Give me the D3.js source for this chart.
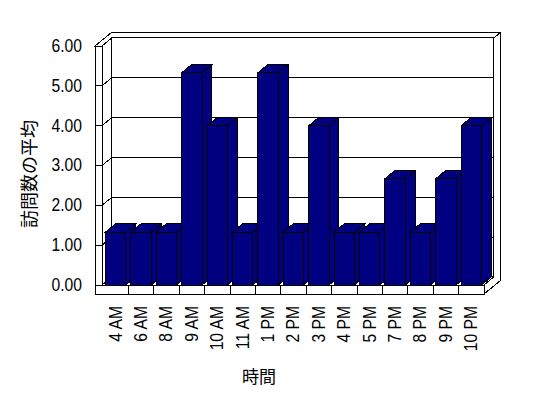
<!DOCTYPE html>
<html>
<head>
<meta charset="utf-8">
<script src="https://cdn.jsdelivr.net/npm/d3@7"></script>
<style>
  body { margin: 0; background: #fff; }
  svg { display: block; }
  text { font-family: "Liberation Sans", Arial, sans-serif; fill: #000; }
  .cjk { font-family: "Noto Sans CJK JP", sans-serif; }
</style>
</head>
<body>
<svg id="chart" width="548" height="398"></svg>
<script>
// data
const hours = ["4 AM", "6 AM", "8 AM", "9 AM", "10 AM", "11 AM", "1 PM", "2 PM",
               "3 PM", "4 PM", "5 PM", "7 PM", "8 PM", "9 PM", "10 PM"];
const averages = [1.33, 1.33, 1.33, 5.33, 4.00, 1.33, 5.33, 1.33,
                  4.00, 1.33, 1.33, 2.67, 1.33, 2.67, 4.00];
const yTicks = [0, 1, 2, 3, 4, 5, 6];
const yTitle = "訪問数の平均";
const xTitle = "時間";

const svg = d3.select("#chart");

// front plane scales
const y = d3.scaleLinear().domain([0, 6]).range([285, 46]);
const x = d3.scaleBand().domain(hours).range([103, 484]).paddingInner(0.2).paddingOuter(0.1);

// fake 3d: depth vector, walls
const depth = [16.5, -13.5];
const inner = 0.6;       // back wall front face / bar depth
const wallOuter = 95;
const wallInner = 102;
const floorH = 9;
const right = x.range()[1];
const y0 = y(0), yTop = y(6);
const narrow = 0.87;     // squeeze labels, the original font is narrow

const P = (px, py, d) => [px + d * depth[0], py + d * depth[1]];
const poly = pts => "M" + pts.map(p => p.join(",")).join("L") + "Z";
const line = pts => "M" + pts.map(p => p.join(",")).join("L");

const g = svg.append("g").attr("shape-rendering", "crispEdges");

const face = (pts, fill) => g.append("path")
    .attr("d", poly(pts))
    .attr("fill", fill)
    .attr("stroke", "#000")
    .attr("stroke-width", 1);

// tops of left + back wall
face([P(wallOuter, yTop, 0), P(wallOuter, yTop, 1), P(right, yTop, 1),
      P(right, yTop, inner), P(wallInner, yTop, inner), P(wallInner, yTop, 0)], "#fff");
// back wall
face([P(wallInner, yTop, inner), P(right, yTop, inner), P(right, y0, inner), P(wallInner, y0, inner)], "#fff");
// left wall inner side
face([P(wallInner, yTop, 0), P(wallInner, yTop, inner), P(wallInner, y0, inner), P(wallInner, y0, 0)], "#fff");
// floor top
face([P(wallInner, y0, 0), P(right, y0, 0), P(right, y0, inner), P(wallInner, y0, inner)], "#fff");
// right side of floor and back wall
face([P(right, y0, 0), P(right, y0 + floorH, 0), P(right, y0 + floorH, 1),
      P(right, yTop, 1), P(right, yTop, inner), P(right, y0, inner)], "#fff");
// front of left wall + floor
face([P(wallOuter, yTop, 0), P(wallInner, yTop, 0), P(wallInner, y0, 0), P(right, y0, 0),
      P(right, y0 + floorH, 0), P(wallOuter, y0 + floorH, 0)], "#fff");

// gridlines
g.selectAll(".grid")
  .data(yTicks)
  .enter().append("path")
    .attr("class", "grid")
    .attr("fill", "none")
    .attr("stroke", "#000")
    .attr("d", v => line([P(wallOuter, y(v), 0), P(wallInner, y(v), 0),
                          P(wallInner, y(v), inner), P(right, y(v), inner)]));

// category ticks on the floor front
const step = x.step();
const bounds = d3.range(1, hours.length).map(i => x.range()[0] + i * step);
g.selectAll(".xtick")
  .data(bounds)
  .enter().append("line")
    .attr("x1", d => d).attr("x2", d => d)
    .attr("y1", y0).attr("y2", y0 + floorH)
    .attr("stroke", "#000");

// bars
const bw = x.bandwidth();
const bars = g.selectAll(".bar")
  .data(hours.map((h, i) => ({ h: h, v: averages[i] })))
  .enter().append("g").attr("class", "bar");

bars.append("path")
    .attr("fill", "#000080").attr("stroke", "#000")
    .attr("d", d => poly([P(x(d.h) + bw, y(d.v), 0), P(x(d.h) + bw, y(d.v), inner),
                          P(x(d.h) + bw, y0, inner), P(x(d.h) + bw, y0, 0)]));
bars.append("path")
    .attr("fill", "#000080").attr("stroke", "#000")
    .attr("d", d => poly([P(x(d.h), y(d.v), 0), P(x(d.h), y(d.v), inner),
                          P(x(d.h) + bw, y(d.v), inner), P(x(d.h) + bw, y(d.v), 0)]));
bars.append("rect")
    .attr("x", d => x(d.h)).attr("y", d => y(d.v))
    .attr("width", bw).attr("height", d => y0 - y(d.v))
    .attr("fill", "#000080").attr("stroke", "#000");

// y labels
svg.selectAll(".ylab")
  .data(yTicks)
  .enter().append("text")
    .attr("transform", d => `translate(82,${y(d)}) scale(${narrow},1)`)
    .attr("text-anchor", "end")
    .attr("dominant-baseline", "central")
    .style("font-size", "18px")
    .text(d => d.toFixed(2));

// x labels, rotated
svg.selectAll(".xlab")
  .data(hours)
  .enter().append("text")
    .attr("transform", d => `translate(${x(d) + bw / 2},306) rotate(-90) scale(${narrow},1)`)
    .attr("text-anchor", "end")
    .attr("dominant-baseline", "central")
    .style("font-size", "18px")
    .text(d => d);

// axis titles
svg.append("text").attr("class", "cjk")
    .attr("transform", "translate(28,174) rotate(-90)")
    .attr("text-anchor", "middle")
    .attr("dominant-baseline", "central")
    .style("font-size", "18px")
    .text(yTitle);

svg.append("text").attr("class", "cjk")
    .attr("x", 259).attr("y", 375)
    .attr("text-anchor", "middle")
    .attr("dominant-baseline", "central")
    .style("font-size", "17px")
    .text(xTitle);
</script>
</body>
</html>
